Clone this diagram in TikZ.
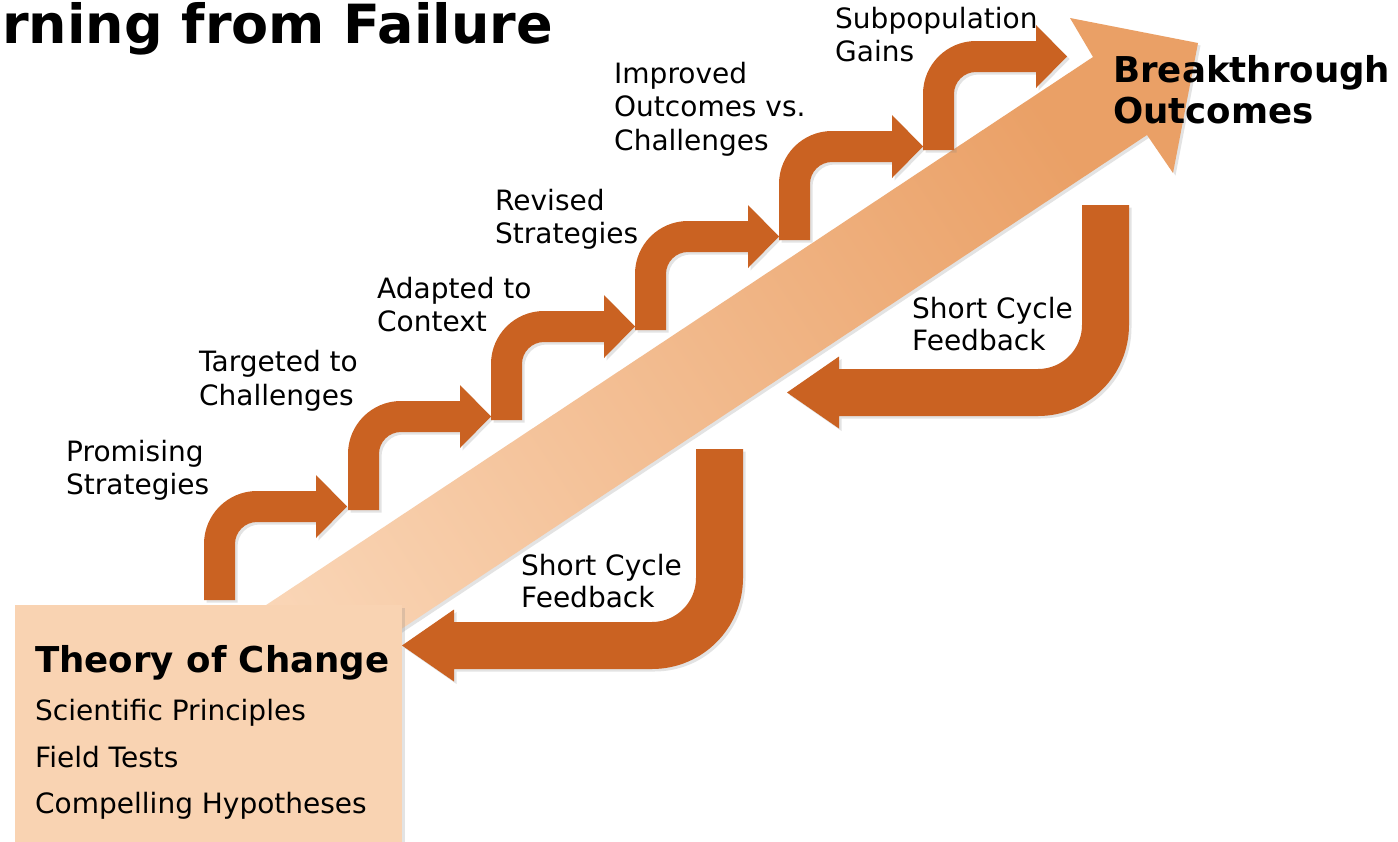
\documentclass[tikz,border=0pt]{standalone}
\usepackage{fontspec}
\setmainfont{DejaVu Sans}
\usetikzlibrary{shadows}
\definecolor{stepor}{HTML}{CA6222}
\definecolor{peach}{HTML}{F9D3B2}
\definecolor{arrowlight}{HTML}{FAD6B7}
\definecolor{arrowdark}{HTML}{EAA066}
\tikzset{
  softshadow/.style={drop shadow={opacity=0.22, shadow xshift=2.5pt, shadow yshift=-2.5pt}},
  stepfill/.style={fill=stepor, softshadow},
  lbl/.style={anchor=base west, inner sep=0pt, font=\fontsize{28}{33}\selectfont},
  hdr/.style={anchor=base west, inner sep=0pt, font=\fontsize{35.6}{41}\selectfont\bfseries},
}
% step arrow: #1 left x, #2 bottom y, #3 top y of horizontal shaft, #4 tip x
\newcommand{\stepshape}[4]{%
  \path[stepfill] (#1,#2) -- (#1,{#3+53})
    .. controls (#1,{#3+23.7}) and ({#1+23.7},#3) .. ({#1+53},#3)
    -- ({#4-31},#3) -- ({#4-31},{#3-16}) -- (#4,{#3+15.5}) -- ({#4-31},{#3+47})
    -- ({#4-31},{#3+31}) -- ({#1+53},{#3+31})
    .. controls ({#1+40.85},{#3+31}) and ({#1+31},{#3+40.85}) .. ({#1+31},{#3+53})
    -- ({#1+31},#2) -- cycle;}
% feedback arrow: #1 left x of vertical, #2 top y, #3 bottom y of horizontal, #4 tip x
\newcommand{\fbshape}[4]{%
  \path[stepfill] (#1,#2) -- ({#1+47},#2) -- ({#1+47},{#3-91})
    .. controls ({#1+47},{#3-40.7}) and ({#1+47-40.7},#3) .. ({#1+47-91},#3)
    -- ({#4+52},#3) -- ({#4+52},{#3+12.5}) -- (#4,{#3-23.5}) -- ({#4+52},{#3-59.5})
    -- ({#4+52},{#3-47}) -- ({#1-44},{#3-47})
    .. controls ({#1-19.7},{#3-47}) and (#1,{#3-66.7}) .. (#1,{#3-91})
    -- cycle;}
\begin{document}
\begin{tikzpicture}[x=1pt,y=-1pt]
\useasboundingbox (0,0) rectangle (1398,841);
\fill[white] (0,0) rectangle (1398,841);

% big diagonal arrow
\path[bottom color=arrowlight, top color=arrowdark, shading angle=-56.4, softshadow]
  (150,682) -- (1093,57) -- (1070,18) -- (1198,43) -- (1173,173) -- (1147,135) -- (202,761) -- cycle;

% step arrows
\stepshape{204}{600}{491}{347}
\stepshape{348}{510}{401}{491}
\stepshape{491}{420}{311}{635}
\stepshape{635}{330}{221}{779}
\stepshape{779}{240}{131}{923}
\stepshape{923}{150}{41}{1067}

% theory of change box
\node[fill=peach, softshadow, anchor=north west, minimum width=387pt, minimum height=250pt, inner sep=0pt] (toc) at (15,605) {};

% feedback arrows
\fbshape{1082}{205}{416}{787}
\fbshape{696}{449}{669}{402}

% title
\node[anchor=base east, inner sep=0pt, font=\fontsize{54}{60}\selectfont\bfseries] (title) at (553,43) {Learning from Failure};

% step labels
\node[lbl] (prom1) at (66,461) {Promising};
\node[lbl] (prom2) at (66,494) {Strategies};
\node[lbl] (targ1) at (199,371) {Targeted to};
\node[lbl] (targ2) at (199,405) {Challenges};
\node[lbl] (adap1) at (377,298) {Adapted to};
\node[lbl] (adap2) at (377,331) {Context};
\node[lbl] (rev1) at (495,210) {Revised};
\node[lbl] (rev2) at (495,243) {Strategies};
\node[lbl] (imp1) at (614,83) {Improved};
\node[lbl] (imp2) at (614,116) {Outcomes vs.};
\node[lbl] (imp3) at (614,150) {Challenges};
\node[lbl] (sub1) at (835,28) {Subpopulation};
\node[lbl] (sub2) at (835,61) {Gains};

% feedback labels
\node[lbl] (fbA1) at (912,318) {Short Cycle};
\node[lbl] (fbA2) at (912,350) {Feedback};
\node[lbl] (fbB1) at (521,575) {Short Cycle};
\node[lbl] (fbB2) at (521,607) {Feedback};

% box texts
\node[hdr] (toch) at (35,672) {Theory of Change};
\node[lbl] (toc1) at (35,720) {Scientific Principles};
\node[lbl] (toc2) at (35,767) {Field Tests};
\node[lbl] (toc3) at (35,813) {Compelling Hypotheses};

% outcome
\node[hdr] (bo1) at (1113,82) {Breakthrough};
\node[hdr] (bo2) at (1113,123) {Outcomes};
\end{tikzpicture}
\end{document}
